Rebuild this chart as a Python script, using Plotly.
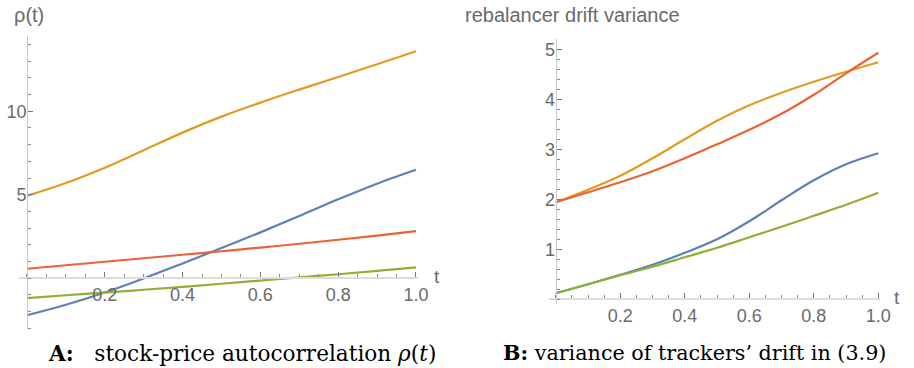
import plotly.graph_objects as go

# ---------------- data ----------------
t = [0.0, 0.1, 0.2, 0.3, 0.4, 0.5, 0.6, 0.7, 0.8, 0.9, 1.0]

# Panel A: stock-price autocorrelation rho(t)
a_blue   = [-2.23, -1.60, -0.86, -0.02, 0.88, 1.80, 2.74, 3.72, 4.72, 5.66, 6.49]
a_orange = [4.93, 5.70, 6.62, 7.66, 8.72, 9.68, 10.52, 11.30, 12.05, 12.82, 13.60]
a_green  = [-1.20, -1.03, -0.87, -0.70, -0.53, -0.34, -0.15, 0.04, 0.23, 0.43, 0.64]
a_red    = [0.56, 0.77, 0.98, 1.19, 1.40, 1.61, 1.83, 2.06, 2.30, 2.55, 2.81]

# Panel B: variance of trackers' drift
b_blue   = [0.12, 0.30, 0.49, 0.69, 0.93, 1.20, 1.56, 1.98, 2.38, 2.70, 2.92]
b_orange = [1.94, 2.19, 2.47, 2.82, 3.20, 3.57, 3.88, 4.13, 4.35, 4.55, 4.74]
b_green  = [0.12, 0.30, 0.48, 0.65, 0.84, 1.03, 1.24, 1.45, 1.67, 1.89, 2.13]
b_red    = [1.94, 2.14, 2.34, 2.56, 2.82, 3.10, 3.39, 3.71, 4.09, 4.52, 4.93]

x_tickvals = [0.2, 0.4, 0.6, 0.8, 1.0]
x_ticktext = ["0.2", "0.4", "0.6", "0.8", "1.0"]
a_y_tickvals = [5, 10]
a_y_ticktext = ["5", "10"]
b_y_tickvals = [1, 2, 3, 4, 5]
b_y_ticktext = ["1", "2", "3", "4", "5"]

colors = {"blue": "#5E81B5", "orange": "#E19C24", "green": "#8FB032", "red": "#EB6235"}

# ---------------- figure ----------------
W, H = 914, 368
fig = go.Figure()

for ys, c in [(a_blue, "blue"), (a_orange, "orange"), (a_green, "green"), (a_red, "red")]:
    fig.add_trace(go.Scatter(x=t, y=ys, mode="lines", line=dict(color=colors[c], width=2.2, shape="spline", smoothing=1.0),
                             xaxis="x", yaxis="y", showlegend=False, hoverinfo="skip"))
for ys, c in [(b_blue, "blue"), (b_orange, "orange"), (b_green, "green"), (b_red, "red")]:
    fig.add_trace(go.Scatter(x=t, y=ys, mode="lines", line=dict(color=colors[c], width=2.2, shape="spline", smoothing=1.0),
                             xaxis="x2", yaxis="y2", showlegend=False, hoverinfo="skip"))

tickfont = dict(family="Liberation Sans, Arial, sans-serif", size=18, color="#6a6a6a")

def px_x(p):
    return p / W

def px_y(p):
    return 1 - p / H

# Panel A geometry (pixels)
a_x0, a_x1 = 19.4, 423.0      # for range [-0.02, 1.005]
a_y_top, a_y_bot = 36.2, 329.3  # for range [14.5, -3.07]
a_zero_y = 277.9
a_zero_x = 27.4

# Panel B geometry
b_x0, b_x1 = 556.0, 890.3     # for range [-0.02, 1.004]
b_y_top, b_y_bot = 39.3, 304.3  # for range [5.2, -0.1]
b_zero_y = 299.3
b_zero_x = 562.4

xaxis_common = dict(
    showgrid=False, zeroline=False, showline=True, linecolor="#dcdcdc", linewidth=2,
    ticks="inside", ticklen=5, tickwidth=1, tickcolor="#777",
    tickmode="array", tickvals=x_tickvals, ticktext=x_ticktext, tickfont=tickfont,
    minor=dict(ticks="inside", ticklen=3, tickwidth=1, tickcolor="#888", dtick=0.05, tick0=0, showgrid=False),
    anchor="free", side="bottom",
)
yaxis_common = dict(
    showgrid=False, zeroline=False, showline=True, linecolor="#c8c8c8", linewidth=1,
    ticks="inside", ticklen=5, tickwidth=1, tickcolor="#777", tickfont=tickfont,
    anchor="free", side="left", ticklabelstandoff=-3,
)

fig.update_layout(
    width=W, height=H,
    margin=dict(l=0, r=0, t=0, b=0),
    paper_bgcolor="white", plot_bgcolor="white",
    xaxis=dict(xaxis_common, domain=[px_x(a_x0), px_x(a_x1)], range=[-0.02, 1.005],
               position=px_y(a_zero_y)),
    yaxis=dict(yaxis_common, domain=[px_y(a_y_bot), px_y(a_y_top)], range=[-3.07, 14.5],
               position=px_x(a_zero_x), tickmode="array", tickvals=a_y_tickvals, ticktext=a_y_ticktext,
               minor=dict(ticks="inside", ticklen=3, tickwidth=1, tickcolor="#888", dtick=1, tick0=0, showgrid=False)),
    xaxis2=dict(xaxis_common, domain=[px_x(b_x0), px_x(b_x1)], range=[-0.02, 1.004],
                position=px_y(b_zero_y)),
    yaxis2=dict(yaxis_common, domain=[px_y(b_y_bot), px_y(b_y_top)], range=[-0.1, 5.2],
                position=px_x(b_zero_x), tickmode="array", tickvals=b_y_tickvals, ticktext=b_y_ticktext,
                minor=dict(ticks="inside", ticklen=3, tickwidth=1, tickcolor="#888", dtick=0.2, tick0=0, showgrid=False)),
)

labfont = dict(family="Liberation Sans, Arial, sans-serif", size=20, color="#6a6a6a")
capfont = dict(family="DejaVu Serif, serif", size=20.7, color="black")

annotations = [
    dict(text="ρ(t)", x=px_x(12), y=px_y(15), xanchor="left", yanchor="middle", font=labfont),
    dict(text="t", x=px_x(442), y=px_y(276), xanchor="center", yanchor="middle", font=dict(labfont, size=19)),
    dict(text="rebalancer drift variance", x=px_x(469), y=px_y(15), xanchor="left", yanchor="middle", font=labfont),
    dict(text="t", x=px_x(908), y=px_y(297), xanchor="center", yanchor="middle", font=dict(labfont, size=19)),
    dict(text="<b>A:</b>&nbsp;&nbsp; stock-price autocorrelation <i>ρ</i>(<i>t</i>)", x=px_x(47), y=px_y(353),
         xanchor="left", yanchor="middle", font=dict(capfont, size=21.6)),
    dict(text="<b>B:</b> variance of trackers’ drift in (3.9)", x=px_x(507), y=px_y(352.5),
         xanchor="left", yanchor="middle", font=capfont),
]
for a in annotations:
    a.update(xref="paper", yref="paper", showarrow=False)
fig.update_layout(annotations=annotations)

fig.write_html("out.html")
